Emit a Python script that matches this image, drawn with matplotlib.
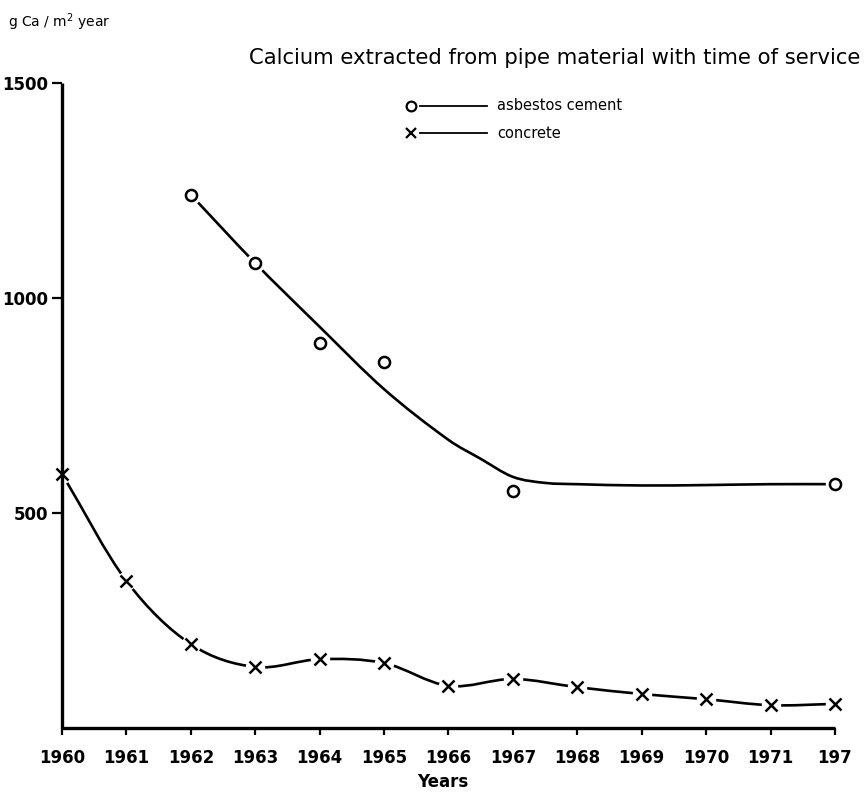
import matplotlib
matplotlib.use("Agg")
import matplotlib.pyplot as plt
from matplotlib.path import Path
from matplotlib.patches import PathPatch
from matplotlib.lines import Line2D

# ---------------- data ----------------
x_ticks = list(range(1960, 1973))
x_tick_labels = [str(y) for y in range(1960, 1972)] + ["197"]
y_ticks = [500, 1000, 1500]
y_tick_labels = ["500", "1000", "1500"]

# asbestos cement: measured points (circles)
ac_years = [1962, 1963, 1964, 1965, 1967, 1972]
ac_values = [1240, 1081, 895, 851, 551, 567]
# asbestos cement: hand-drawn fitted curve
ac_curve_years = [1962, 1963, 1964, 1965, 1966, 1966.5, 1967, 1967.5, 1968, 1969, 1970, 1971, 1972]
ac_curve_values = [1240, 1081, 933, 788, 670, 626, 584, 570, 567, 564, 565, 567, 567]

# concrete: measured points (crosses), the curve passes through them
con_years = list(range(1960, 1973))
con_values = [591, 342, 195, 142, 160, 151, 98, 114, 95, 79, 67, 53, 56]

title = "Calcium extracted from pipe material with time of service"
ylabel = "g Ca / m$^2$ year"
xlabel = "Years"
legend_labels = ["asbestos cement", "concrete"]


def smooth_path(xs, ys):
    """Piecewise cubic Bezier through the points (drawn by matplotlib's Path)."""
    n = len(xs)
    m = []
    for i in range(n):
        if i == 0:
            m.append((ys[1] - ys[0]) / (xs[1] - xs[0]))
        elif i == n - 1:
            m.append((ys[-1] - ys[-2]) / (xs[-1] - xs[-2]))
        else:
            m.append((ys[i + 1] - ys[i - 1]) / (xs[i + 1] - xs[i - 1]))
    verts = [(xs[0], ys[0])]
    codes = [Path.MOVETO]
    for i in range(n - 1):
        h = xs[i + 1] - xs[i]
        verts += [(xs[i] + h / 3, ys[i] + m[i] * h / 3),
                  (xs[i + 1] - h / 3, ys[i + 1] - m[i + 1] * h / 3),
                  (xs[i + 1], ys[i + 1])]
        codes += [Path.CURVE4] * 3
    return Path(verts, codes)


W, H = 866, 794
fig = plt.figure(figsize=(W / 100, H / 100), dpi=100)
fig.patch.set_facecolor("white")

left, right = 62 / W, 835 / W
bottom, top = 1 - 728 / H, 1 - 83 / H
ax = fig.add_axes([left, bottom, right - left, top - bottom])
ax.set_xlim(1960, 1972)
ax.set_ylim(0, 1500)
for s in ["top", "right"]:
    ax.spines[s].set_visible(False)
for s in ["left", "bottom"]:
    ax.spines[s].set_linewidth(2.4)
    ax.spines[s].set_color("black")
    ax.spines[s].set_capstyle("butt")
    ax.spines[s].set_zorder(2.5)

ax.set_xticks(x_ticks)
ax.set_xticklabels(x_tick_labels)
ax.set_yticks(y_ticks)
ax.set_yticklabels(y_tick_labels)
ax.tick_params(axis="x", direction="out", length=5, width=1.6, pad=10, labelsize=12)
ax.tick_params(axis="y", direction="out", length=7, width=1.6, pad=3, labelsize=12)
for lab in ax.get_xticklabels() + ax.get_yticklabels():
    lab.set_fontweight("semibold")

# curves
lw = 1.9
ax.add_patch(PathPatch(smooth_path(ac_curve_years, ac_curve_values), fill=False,
                       lw=lw, color="black", clip_on=False, zorder=2))
ax.add_patch(PathPatch(smooth_path(con_years, con_values), fill=False,
                       lw=lw, color="black", clip_on=False, zorder=2))

# small white gaps round the markers (under the axis lines), then the markers
ax.plot(ac_years, ac_values, ls="none", marker="o", ms=13, mfc="white", mec="white",
        clip_on=False, zorder=2.2)
ax.plot(ac_years, ac_values, ls="none", marker="o", ms=8, mfc="white", mec="black",
        mew=1.8, clip_on=False, zorder=4)
ax.plot(con_years, con_values, ls="none", marker="o", ms=13, mfc="white", mec="white",
        clip_on=False, zorder=2.2)
ax.plot(con_years, con_values, ls="none", marker="x", ms=9, mec="black", mew=1.8,
        clip_on=False, zorder=4)

# texts
fig.text(8 / W, 1 - 22 / H, ylabel, fontsize=10, ha="left", va="center")
fig.text(860 / W, 1 - 58 / H, title, fontsize=15.2, ha="right", va="center")
fig.text(443 / W, 1 - 782 / H, xlabel, fontsize=12, fontweight="bold",
         ha="center", va="center")

# hand-made legend (marker at left end of a line)
for (ym, mk, lab) in [(106, "o", legend_labels[0]), (133, "x", legend_labels[1])]:
    yy = 1 - ym / H
    fig.add_artist(Line2D([420 / W, 487 / W], [yy, yy], lw=1.3, color="black"))
    fig.add_artist(Line2D([411 / W], [yy], marker=mk, ms=7,
                          mfc="white", mec="black", mew=1.6, ls="none"))
    fig.text(497 / W, yy, lab, fontsize=10.5, ha="left", va="center")

fig.savefig("out.png", dpi=100, facecolor="white")
